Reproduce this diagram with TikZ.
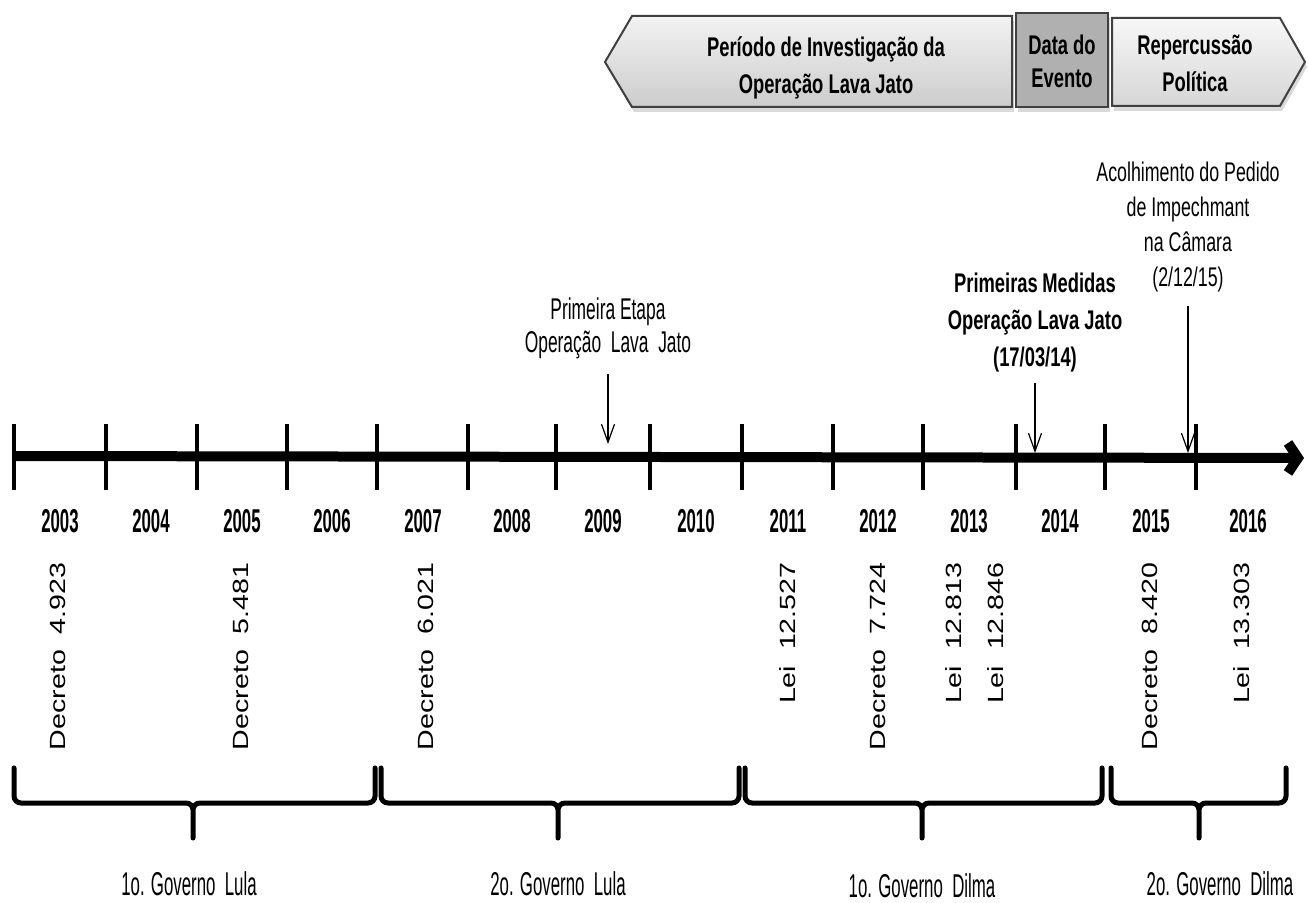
\documentclass[tikz,border=0pt]{standalone}
\usepackage{fontspec}
\setmainfont{Liberation Sans}
\newfontfamily\hdrfont[FakeStretch=0.68]{Liberation Sans}
\newfontfamily\acofont[FakeStretch=0.66]{Liberation Sans}
\newfontfamily\evfont[FakeStretch=0.58]{Liberation Sans}
\newfontfamily\yrfont[FakeStretch=0.51]{Liberation Sans}
\newfontfamily\lawfont[FakeStretch=1.3]{Liberation Sans}
\usetikzlibrary{arrows.meta,shadows}
\tikzset{
  hdr/.style={draw=black!75,line width=1pt,drop shadow={opacity=0.3,shadow xshift=1pt,shadow yshift=-2.5pt}},
  hdrtxt/.style={align=center,inner sep=0pt,font=\hdrfont\bfseries\fontsize{13.5}{18.5}\selectfont},
  yrtick/.style={line width=2.2pt},
  yr/.style={inner sep=0pt,font=\yrfont\bfseries\fontsize{16.5}{18}\selectfont},
  law/.style={rotate=90,anchor=east,inner sep=0pt,font=\lawfont\fontsize{11}{12}\selectfont},
  evarrow/.style={line width=0.6pt,-{Straight Barb[length=9pt,width=6.5pt]}},
  brace/.style={line width=2.5pt,rounded corners=3.5pt,line cap=round},
  gov/.style={inner sep=0pt,font=\yrfont\fontsize{16.5}{18}\selectfont}
}
\begin{document}
\begin{tikzpicture}[x=0.5pt,y=-0.5pt]
\useasboundingbox (0,0) rectangle (1308,903);

% header
\draw[hdr,top color=gray!10,bottom color=gray!40] (605,62) -- (632,16) -- (1012,16) -- (1012,107) -- (632,107) -- cycle;
\draw[hdr,fill=gray!62] (1016,13) rectangle (1108,107);
\draw[hdr,top color=gray!6,bottom color=gray!32] (1112,18) -- (1280,18) -- (1305,62) -- (1280,106) -- (1112,106) -- cycle;
\node[hdrtxt] (inv) at (826,68) {Período de Investigação da\\Operação Lava Jato};
\node[hdrtxt,font=\hdrfont\bfseries\fontsize{13.5}{16.5}\selectfont] (dat) at (1062,61.5) {Data do\\Evento};
\node[hdrtxt] (rep) at (1195,63.5) {Repercussão\\Política};

% timeline
\coordinate (t0) at (14,456);
\coordinate (t1) at (1304,458);
\draw[line width=5pt,-{Straight Barb[length=5pt,width=15pt]}] (t0) -- (t1);
\foreach \x in {14,106,197,287,377,468,556,650,742,833,923,1016,1105,1196}
  \draw[yrtick] (\x,424) -- (\x,490);
\foreach \x/\y in {60/2003,151/2004,242/2005,332/2006,423/2007,512/2008,603/2009,696/2010,788/2011,878/2012,969/2013,1060/2014,1151/2015,1248/2016}
  \node[yr] (y\y) at (\x,521) {\y};

% events
\node[align=center,inner sep=0pt,font=\evfont\fontsize{15}{16.5}\selectfont] (ev1) at (608,328.5) {Primeira Etapa\\Operação~ Lava~ Jato};
\node[hdrtxt] (ev2) at (1035,322.5) {Primeiras\,Medidas\\Operação Lava Jato\\(17/03/14)};
\node[align=center,inner sep=0pt,font=\acofont\fontsize{13.5}{17.5}\selectfont] (ev3) at (1188,227) {Acolhimento do Pedido\\de Impechmant\\na Câmara\\(2/12/15)};
\coordinate (e1) at (608,444);
\coordinate (e2) at (1035,453);
\coordinate (e3) at (1188,453);
\draw[evarrow,shorten <=7.2pt] (ev1.south) -- (e1);
\draw[evarrow,shorten <=5.5pt] (ev2.south) -- (e2);
\draw[evarrow,shorten <=7pt] (ev3.south) -- (e3);

% laws
\foreach \x/\t in {58/Decreto~ 4.923,241/Decreto~ 5.481,426/Decreto~ 6.021,788/Lei~ 12.527,878/Decreto~ 7.724,954/Lei~ 12.813,996/Lei~ 12.846,1150/Decreto~ 8.420,1242/Lei~ 13.303}
  \node[law] at (\x,562) {\t};

% governments
\foreach \a/\m/\b in {14/193/375,381/558/739,745/922/1102,1111/1199/1286}
  \draw[brace] (\a,768) -- (\a,803) -- (\m,803) -- (\m,838) (\b,768) -- (\b,803) -- (\m,803) -- (\m,838);
\node[gov] (g1) at (189,884) {1o. Governo~ Lula};
\node[gov] (g2) at (558,884) {2o. Governo~ Lula};
\node[gov] (g3) at (922,886) {1o. Governo~ Dilma};
\node[gov] (g4) at (1220,884) {2o. Governo~ Dilma};
\end{tikzpicture}
\end{document}
